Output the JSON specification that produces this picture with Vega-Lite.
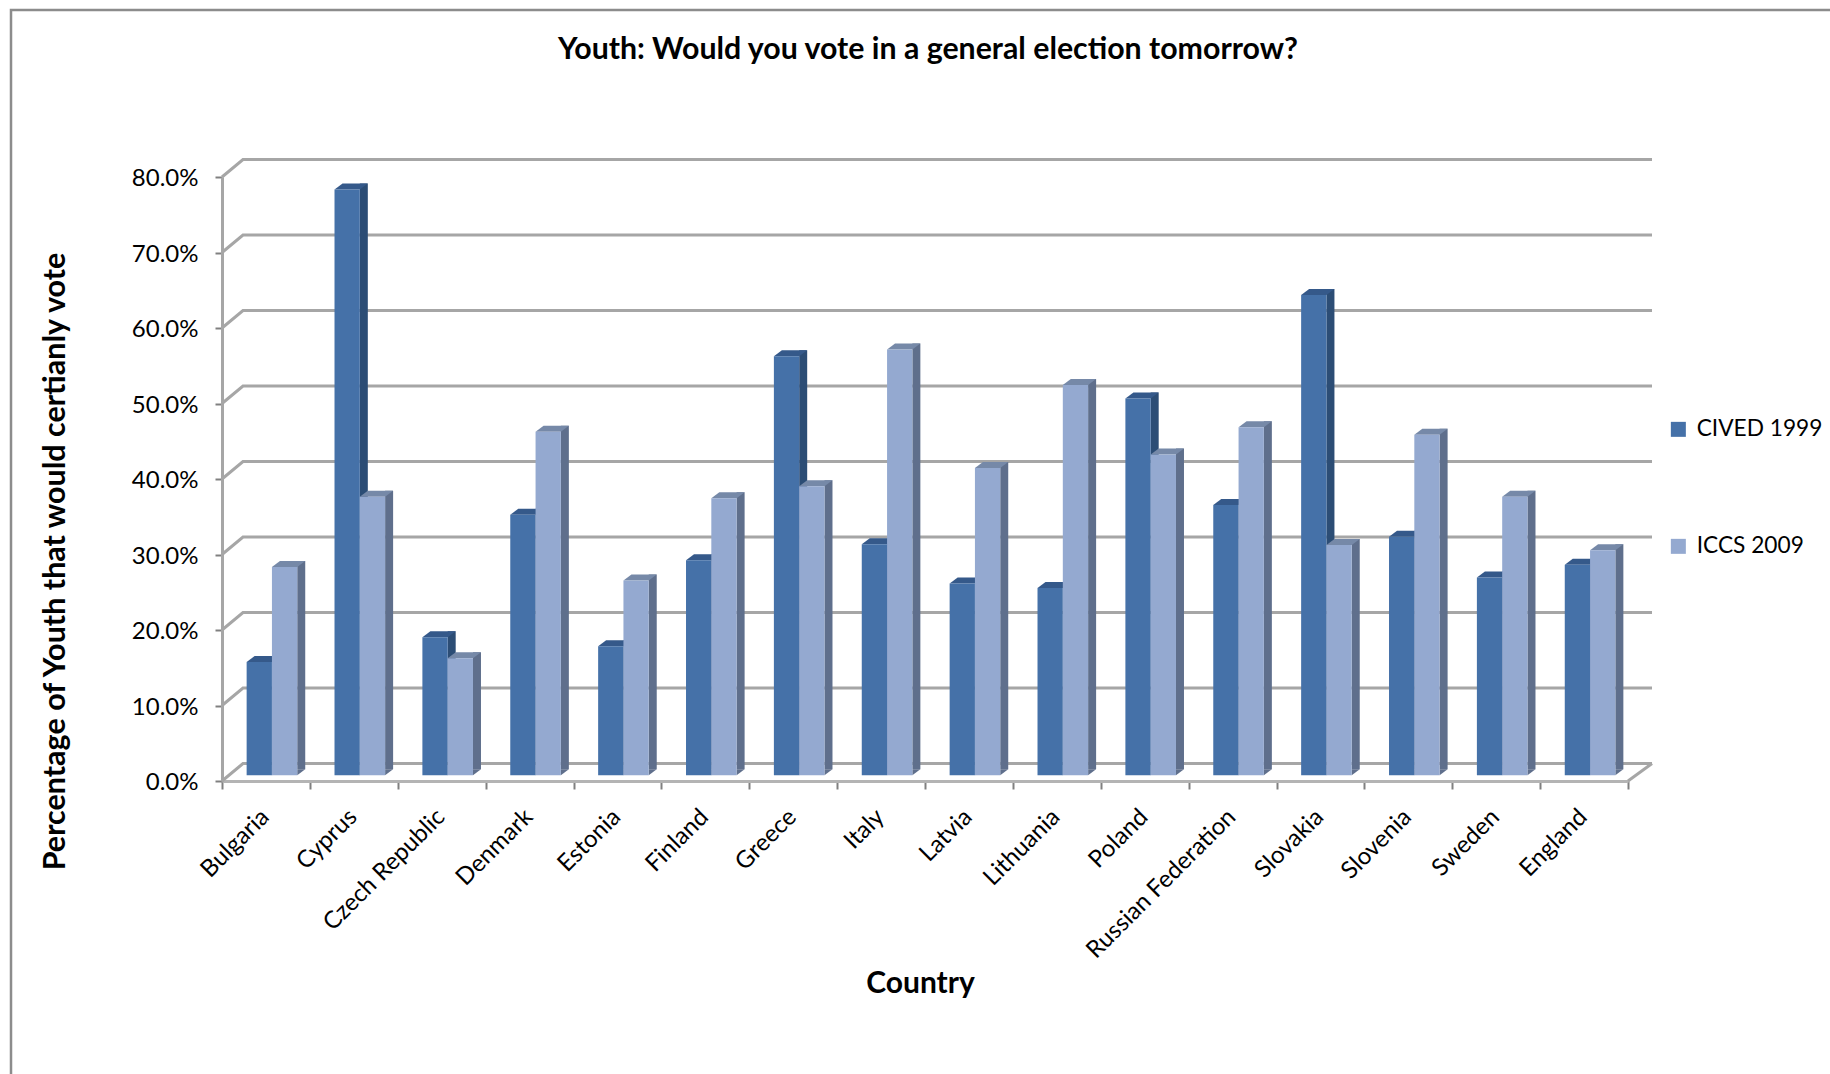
{
"$schema":"https://vega.github.io/schema/vega-lite/v6.json",
"autosize":"none","width":1406,"height":604,
"padding":{"left":222,"top":177,"right":202,"bottom":293},
"background":"white",
"title":{"text":"Youth: Would you vote in a general election tomorrow?","font":"Lato","fontWeight":"bold","fontSize":30.3,"color":"#000000","anchor":"middle","dx":3,"offset":-60},
"config":{"view":{"stroke":null},"axis":{"labelFont":"Lato","titleFont":"Lato","labelColor":"#000000","titleColor":"#000000"}},
"datasets":{
"ticks":[{"t":0},{"t":10},{"t":20},{"t":30},{"t":40},{"t":50},{"t":60},{"t":70},{"t":80}],
"votes":[
{"Country":"Bulgaria","series":"CIVED 1999","value":15.0},{"Country":"Bulgaria","series":"ICCS 2009","value":27.6},
{"Country":"Cyprus","series":"CIVED 1999","value":77.6},{"Country":"Cyprus","series":"ICCS 2009","value":36.9},
{"Country":"Czech Republic","series":"CIVED 1999","value":18.3},{"Country":"Czech Republic","series":"ICCS 2009","value":15.5},
{"Country":"Denmark","series":"CIVED 1999","value":34.5},{"Country":"Denmark","series":"ICCS 2009","value":45.5},
{"Country":"Estonia","series":"CIVED 1999","value":17.1},{"Country":"Estonia","series":"ICCS 2009","value":25.8},
{"Country":"Finland","series":"CIVED 1999","value":28.5},{"Country":"Finland","series":"ICCS 2009","value":36.7},
{"Country":"Greece","series":"CIVED 1999","value":55.5},{"Country":"Greece","series":"ICCS 2009","value":38.3},
{"Country":"Italy","series":"CIVED 1999","value":30.6},{"Country":"Italy","series":"ICCS 2009","value":56.4},
{"Country":"Latvia","series":"CIVED 1999","value":25.4},{"Country":"Latvia","series":"ICCS 2009","value":40.7},
{"Country":"Lithuania","series":"CIVED 1999","value":24.8},{"Country":"Lithuania","series":"ICCS 2009","value":51.7},
{"Country":"Poland","series":"CIVED 1999","value":49.9},{"Country":"Poland","series":"ICCS 2009","value":42.5},
{"Country":"Russian Federation","series":"CIVED 1999","value":35.8},{"Country":"Russian Federation","series":"ICCS 2009","value":46.1},
{"Country":"Slovakia","series":"CIVED 1999","value":63.6},{"Country":"Slovakia","series":"ICCS 2009","value":30.5},
{"Country":"Slovenia","series":"CIVED 1999","value":31.6},{"Country":"Slovenia","series":"ICCS 2009","value":45.1},
{"Country":"Sweden","series":"CIVED 1999","value":26.2},{"Country":"Sweden","series":"ICCS 2009","value":36.9},
{"Country":"England","series":"CIVED 1999","value":27.9},{"Country":"England","series":"ICCS 2009","value":29.8}
]},
"data":{"name":"votes"},
"encoding":{
"x":{"field":"Country","type":"nominal","title":"Country",
"scale":{"domain":["Bulgaria","Cyprus","Czech Republic","Denmark","Estonia","Finland","Greece","Italy","Latvia","Lithuania","Poland","Russian Federation","Slovakia","Slovenia","Sweden","England"],"paddingInner":0,"paddingOuter":0},
"axis":{"labelAngle":-45,"labelAlign":"right","labelBaseline":"middle","labelFontSize":24,"labelPadding":24,"labelOffset":-1,"labelLimit":400,"tickBand":"extent","tickColor":"#808080","tickSize":8,"tickWidth":2,"domainColor":"#b4b4b4","domainWidth":3,"titleFontSize":30,"titleFontWeight":"bold","titleX":698,"titleY":187,"grid":false}},
"y":{"field":"value","type":"quantitative","stack":null,"title":"Percentage of Youth that would certianly vote",
"scale":{"domain":[0,80],"nice":false},
"axis":{"values":[0,10,20,30,40,50,60,70,80],"labelExpr":"format(datum.value/100,'.1%')","labelFontSize":24,"labelPadding":17,"labelOffset":1.5,"tickColor":"#808080","tickSize":7,"tickWidth":2,"domainColor":"#a6a6a6","domainWidth":3,"titleFontSize":30.5,"titleFontWeight":"bold","titleX":-152,"titleY":384,"grid":false}}
},
"layer":[
{"data":{"name":"ticks"},"mark":{"type":"point","shape":"M0,0L21,-17.5L1430,-17.5","size":4,"filled":false,"stroke":"#a6a6a6","strokeWidth":3,"opacity":1},"encoding":{"x":{"datum":"Bulgaria","type":"nominal","bandPosition":0},"y":{"field":"t","type":"quantitative"}}},
{"data":{"values":[{"t":0}]},"mark":{"type":"point","shape":"M0,0L24,-17.5","size":4,"filled":false,"stroke":"#a6a6a6","strokeWidth":3,"opacity":1},"encoding":{"x":{"datum":"England","type":"nominal","bandPosition":1},"y":{"field":"t","type":"quantitative"}}},
{"data":{"values":[{"t":80}]},"mark":{"type":"point","shape":"M-211,897L-211,-167L1608,-167","size":4,"filled":false,"stroke":"#8c8c8c","strokeWidth":2.5,"opacity":1},"encoding":{"x":{"datum":"Bulgaria","type":"nominal","bandPosition":0},"y":{"field":"t","type":"quantitative"}}},

{"transform":[{"filter":"datum.series==='CIVED 1999'"}],"mark":{"type":"bar","size":8,"xOffset":10,"yOffset":-11.7,"color":"#2c4d75"},"encoding":{"y2":{"datum":1.55}}},
{"transform":[{"filter":"datum.series==='CIVED 1999'"}],"mark":{"type":"point","shape":"M25.3,0L33.3,-6L25.3,-6Z","size":4,"filled":true,"color":"#2c4d75","opacity":1,"xOffset":-19.3,"yOffset":-5.7},"encoding":{"y":{"datum":0,"type":"quantitative"}}},
{"transform":[{"filter":"datum.series==='CIVED 1999'"}],"mark":{"type":"point","shape":"M0,0L8,-6L33.3,-6L25.3,0Z","size":4,"filled":true,"color":"#35598a","opacity":1,"xOffset":-19.3,"yOffset":-5.7}},
{"transform":[{"filter":"datum.series==='CIVED 1999'"}],"mark":{"type":"bar","size":25.3,"xOffset":-6.65,"yOffset":-5.7},"encoding":{"y2":{"datum":0.75},"color":{"field":"series","type":"nominal","title":null,"scale":{"domain":["CIVED 1999","ICCS 2009"],"range":["#4571a8","#94a9d0"]},"legend":{"orient":"none","legendX":1445,"legendY":241,"symbolType":"square","symbolSize":225,"labelFont":"Lato","labelFontSize":22.7,"labelColor":"#000000","rowPadding":93,"labelOffset":7}}}},

{"transform":[{"filter":"datum.series==='ICCS 2009'"}],"mark":{"type":"bar","size":8,"xOffset":35.3,"yOffset":-11.7,"color":"#5f6f8c"},"encoding":{"y2":{"datum":1.55}}},
{"transform":[{"filter":"datum.series==='ICCS 2009'"}],"mark":{"type":"point","shape":"M25.3,0L33.3,-6L25.3,-6Z","size":4,"filled":true,"color":"#5f6f8c","opacity":1,"xOffset":6,"yOffset":-5.7},"encoding":{"y":{"datum":0,"type":"quantitative"}}},
{"transform":[{"filter":"datum.series==='ICCS 2009'"}],"mark":{"type":"point","shape":"M0,0L8,-6L33.3,-6L25.3,0Z","size":4,"filled":true,"color":"#7689a8","opacity":1,"xOffset":6,"yOffset":-5.7}},
{"transform":[{"filter":"datum.series==='ICCS 2009'"}],"mark":{"type":"bar","size":25.3,"xOffset":18.65,"yOffset":-5.7},"encoding":{"y2":{"datum":0.75},"color":{"field":"series","type":"nominal","title":null}}}
]
}
